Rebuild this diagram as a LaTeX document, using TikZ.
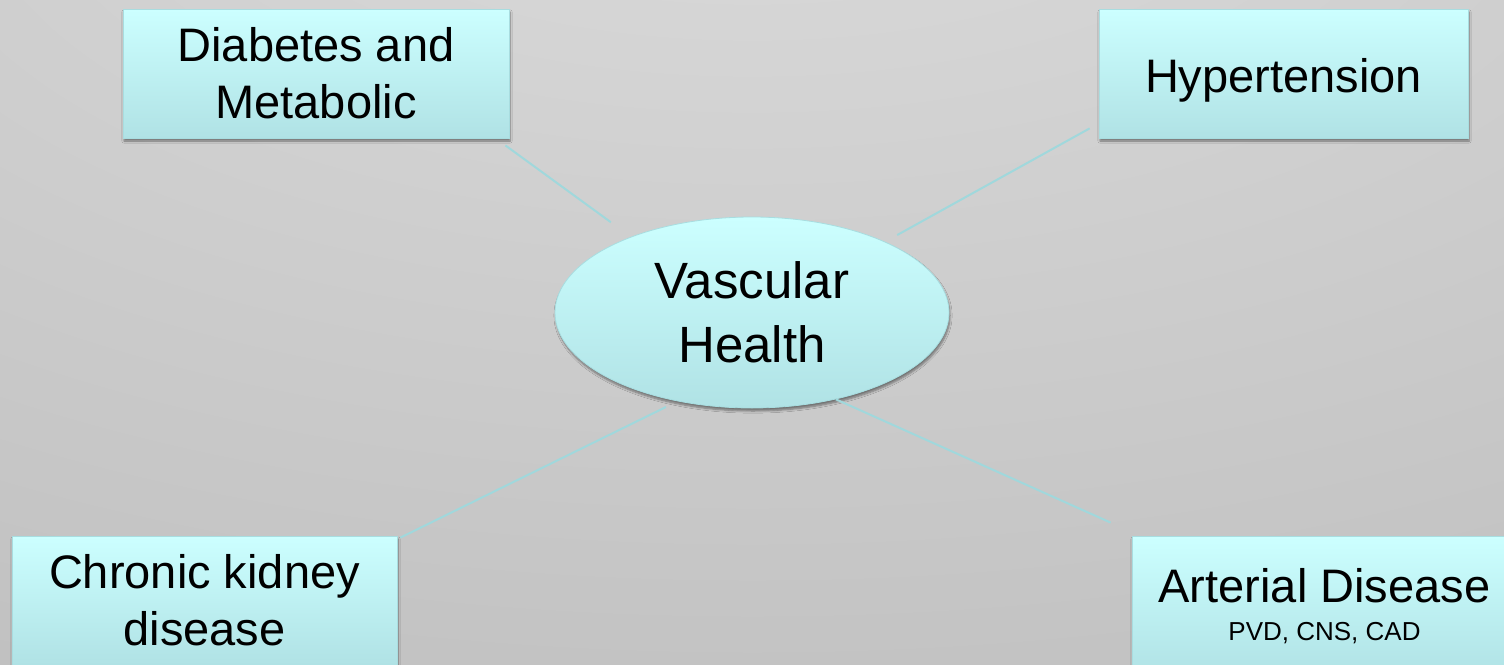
\documentclass[tikz,border=0pt]{standalone}
\usepackage{fontspec}
\setmainfont{Liberation Sans}
\usetikzlibrary{shapes.geometric,shadows.blur}
\definecolor{bgA}{HTML}{DDDDDD}
\definecolor{bgB}{HTML}{C3C3C3}
\definecolor{bgC}{HTML}{ABABAB}
\definecolor{bgD}{HTML}{9C9C9C}
\definecolor{boxTop}{HTML}{CCFFFF}
\definecolor{boxBot}{HTML}{B0E2E5}
\definecolor{boxLine}{HTML}{A8DDE0}
\definecolor{connC}{HTML}{A0D8DC}
\pgfdeclareradialshading{bgshade}{\pgfpoint{0bp}{45bp}}{color(0bp)=(bgA); color(50bp)=(bgB); color(95bp)=(bgC); color(110bp)=(bgD)}
\begin{document}
\begin{tikzpicture}[x=1pt,y=-1pt,
  box/.style={rectangle, draw=boxLine, line width=0.8pt, top color=boxTop, bottom color=boxBot,
    inner sep=0pt, align=center,
    blur shadow={shadow xshift=1pt, shadow yshift=-3pt, shadow opacity=45, shadow blur steps=6}},
  hub/.style={ellipse, draw=boxLine, line width=0.8pt, top color=boxTop, bottom color=boxBot,
    inner sep=0pt, align=center, minimum width=394pt, minimum height=191pt,
    font=\fontsize{51}{64}\selectfont,
    blur shadow={shadow xshift=1pt, shadow yshift=-3pt, shadow opacity=45, shadow blur steps=6}},
  bigtext/.style={font=\fontsize{47}{57}\selectfont},
  conn/.style={draw=connC, line width=2pt}]
\shade[shading=bgshade] (0,0) rectangle (1504,664);
\useasboundingbox (0,0) rectangle (1504,664);

\node[box, bigtext, minimum width=386pt, minimum height=129pt] (dm) at (316,73.5) {Diabetes and\\Metabolic};
\node[box, bigtext, minimum width=369pt, minimum height=129pt, text height=37pt, text depth=0pt] (ht) at (1283.5,73.5) {Hypertension};
\node[box, bigtext, minimum width=385pt, minimum height=129pt] (ckd) at (204.5,600.5) {Chronic kidney\\disease};
\node[box, bigtext, minimum width=385pt, minimum height=141pt] (ad) at (1324.5,606.5) {Arterial Disease\\[-19pt]{\fontsize{26}{27}\selectfont PVD, CNS, CAD}};
\node[hub] (vh) at (752,312.5) {Vascular\\Health};

\draw[conn, shorten >=24.7pt] ([xshift=-4pt,yshift=-7pt]dm.south east) -- (vh.148);
\draw[conn, shorten >=13.8pt] ([xshift=-9pt,yshift=10pt]ht.south west) -- (vh.28.3);
\draw[conn, shorten >=12.9pt] ([xshift=3pt,yshift=-2pt]ckd.north east) -- (vh.230.2);
\draw[conn] ([xshift=-21pt,yshift=13pt]ad.north west) -- (vh.314.2);
\end{tikzpicture}
\end{document}
